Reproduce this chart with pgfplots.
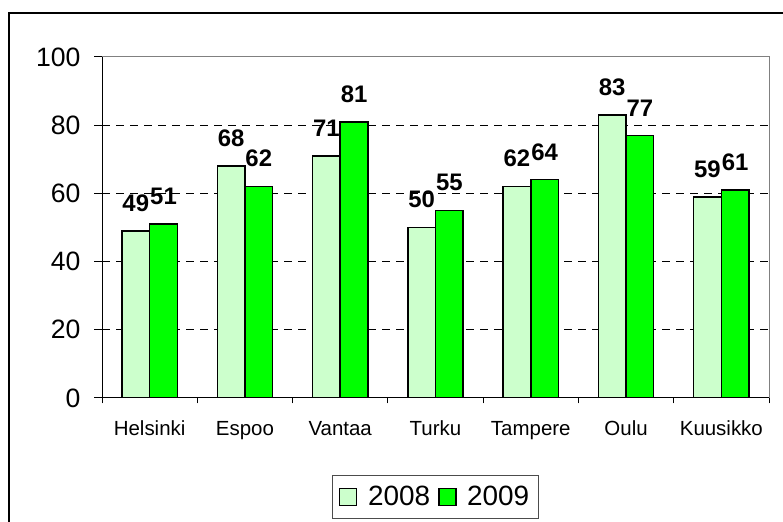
\documentclass[border=0pt]{standalone}
\usepackage{fontspec}
\setmainfont{Liberation Sans}
\usepackage{pgfplots}
\pgfplotsset{compat=1.18}
\definecolor{lightg}{HTML}{CCFFCC}
\definecolor{brightg}{HTML}{00FF00}
\begin{document}
\begin{tikzpicture}
\clip (0,0) rectangle (587.25bp,391.5bp);
\path[use as bounding box] (0,0) rectangle (587.25bp,391.5bp);
\fill[white] (0,0) rectangle (587.25bp,391.5bp);
\draw[line width=1.5bp] (6.75bp,-10bp) -- (6.75bp,381.75bp) -- (600bp,381.75bp);
\begin{axis}[
  at={(76.5bp,93bp)}, anchor=south west,
  scale only axis, width=500.25bp, height=255.75bp,
  xmin=-0.5, xmax=6.5, ymin=0, ymax=100,
  /pgf/number format/assume math mode=true,
  xtick={0,...,6},
  xticklabels={Helsinki,Espoo,Vantaa,Turku,Tampere,Oulu,Kuusikko},
  minor xtick={-0.5,0.5,...,6.5},
  ytick={0,20,...,100},
  extra y ticks={20,40,60,80},
  extra y tick labels={},
  extra y tick style={grid=major, major tick length=0pt},
  grid style={black, line width=0.6bp, dash pattern=on 6bp off 4.5bp},
  axis line style={draw=gray, line width=0.75bp},
  tick align=outside,
  xtick pos=bottom, ytick pos=left,
  major tick length=6bp, minor tick length=4bp,
  major x tick style={draw=none},
  minor x tick style={black, line width=0.75bp},
  major y tick style={black, line width=0.75bp},
  yticklabel style={font=\fontsize{20}{22}\selectfont, inner sep=0pt, xshift=-10bp},
  xticklabel style={font=\fontsize{15.4}{17}\selectfont, inner sep=0pt, yshift=-11bp},
  nodes near coords,
  every node near coord/.append style={font=\bfseries\fontsize{18}{20}\selectfont, anchor=south, inner sep=0pt, yshift=14bp, black},
  legend style={at={(0.5,-0.29)}, anchor=center, legend columns=-1, draw=black!70, line width=0.75bp,
    font=\fontsize{21}{24}\selectfont, inner xsep=5bp, inner ysep=6bp,
    /tikz/every even column/.append style={column sep=4bp},
    /tikz/every odd column/.append style={column sep=6bp}},
]
\addplot[ybar, bar width=0.29, bar shift=-0.145, fill=lightg, draw=black, line width=1.1bp,
  every node near coord/.append style={xshift=-10.4bp},
  legend image code/.code={\draw[fill=lightg, draw=black, line width=1bp] (0bp,-6.4bp) rectangle (12.75bp,6.4bp);}]
  coordinates {(0,49) (1,68) (2,71) (3,50) (4,62) (5,83) (6,59)};
\addplot[ybar, bar width=0.29, bar shift=0.145, fill=brightg, draw=black, line width=1.1bp,
  every node near coord/.append style={xshift=10.4bp},
  legend image code/.code={\draw[fill=brightg, draw=black, line width=1bp] (0bp,-6.4bp) rectangle (12.75bp,6.4bp);}]
  coordinates {(0,51) (1,62) (2,81) (3,55) (4,64) (5,77) (6,61)};
\legend{2008,2009}
\draw[black, line width=0.75bp] (rel axis cs:0,1) -- (rel axis cs:0,0) -- (rel axis cs:1,0);
\end{axis}
\end{tikzpicture}
\end{document}
